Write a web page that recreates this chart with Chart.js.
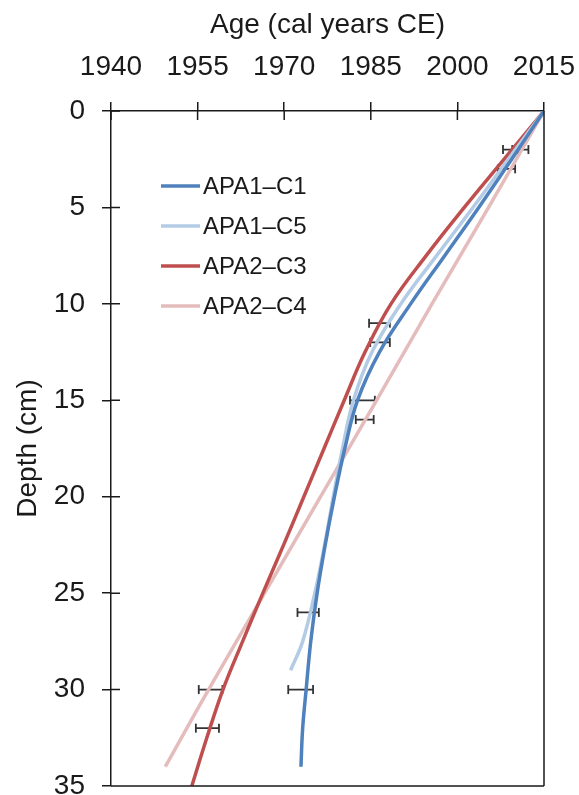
<!DOCTYPE html>
<html>
<head>
<meta charset="utf-8">
<script src="https://cdn.jsdelivr.net/npm/chart.js@4/dist/chart.umd.min.js"></script>
<style>
html,body{margin:0;padding:0;background:#ffffff;}
#wrap{width:579px;height:795px;position:relative;}
</style>
</head>
<body>
<div id="wrap"><canvas id="c" width="579" height="795"></canvas></div>
<script>
// ---- data ----
const xTickValues = [1940, 1955, 1970, 1985, 2000, 2015];
const yTickValues = [0, 5, 10, 15, 20, 25, 30, 35];
const seriesNames = ['APA1\u2013C1', 'APA1\u2013C5', 'APA2\u2013C3', 'APA2\u2013C4'];

const depthC1 = [0, 2.5, 5, 7.5, 10, 12.5, 15, 17.5, 20, 22.5, 25, 27.5, 30, 32, 34];
const ageC1   = [2015, 2009.4, 2003.7, 1997.8, 1991.9, 1986.5, 1982.7, 1980.5, 1978.7, 1977.1, 1975.7, 1974.6, 1973.8, 1973.2, 1972.9];

const depthC5 = [0, 2.5, 5, 7.5, 10, 12.5, 15, 17.5, 20, 22.5, 25, 27.5, 29];
const ageC5   = [2015, 2008.8, 2002.7, 1996.4, 1990.2, 1985.2, 1982.0, 1980.1, 1978.5, 1977.0, 1975.3, 1973.2, 1971.1];

const depthC3 = [0, 2.5, 5, 7.5, 10, 12.5, 15, 17.5, 20, 22.5, 25, 27.5, 30, 32.5, 35];
const ageC3   = [2015, 2008.1, 2001.2, 1994.6, 1988.5, 1984.0, 1980.4, 1976.9, 1973.4, 1969.9, 1966.3, 1962.8, 1959.4, 1956.6, 1954.0];

const depthC4 = [0, 5, 10, 15, 20, 25, 30, 34];
const ageC4   = [2015, 2005.4, 1995.6, 1986.0, 1976.3, 1966.6, 1956.9, 1949.4];

// error bars: depth, lower age, upper age
const errDepth = [2, 2, 3, 11, 12, 15, 16, 26, 30, 30, 32];
const errLow   = [2007.9, 2009.5, 2007.0, 1984.7, 1984.9, 1981.4, 1982.4, 1972.3, 1970.7, 1955.2, 1954.7];
const errHigh  = [2010.5, 2012.3, 2010.0, 1988.3, 1988.3, 1985.7, 1985.5, 1976.0, 1975.0, 1959.3, 1958.7];

const seriesColors = ['#4f81bd', '#b3cbe4', '#bf4f4f', '#e5bcbc'];

// ---- build ----
const FONT = '"Liberation Sans", Arial, Helvetica, sans-serif';
const TXT = '#1a1a1a';

function pts(xs, ys) { return xs.map((v, i) => ({ x: v, y: ys[i] })); }

const errData = [];
errDepth.forEach((d, i) => {
  errData.push({ x: errLow[i], y: d }, { x: errHigh[i], y: d }, { x: null, y: null });
});

const curveSets = [
  [ageC1, depthC1], [ageC5, depthC5], [ageC3, depthC3], [ageC4, depthC4]
].map((p, i) => ({
  label: seriesNames[i],
  data: pts(p[0], p[1]),
  borderColor: seriesColors[i],
  backgroundColor: seriesColors[i],
  borderWidth: 3.5,
  pointRadius: 0,
  tension: 0.4,
  fill: false,
  order: 1,
  inLegend: true
}));

const errSet = {
  label: 'errors',
  data: errData,
  borderColor: '#333333',
  borderWidth: 1.8,
  pointStyle: 'line',
  pointRotation: 90,
  pointRadius: 4.5,
  pointBorderWidth: 1.8,
  pointBorderColor: '#333333',
  pointBackgroundColor: '#333333',
  tension: 0,
  spanGaps: false,
  fill: false,
  order: 5,
  inLegend: false
};

const frameTicks = {
  id: 'frameTicks',
  afterDraw(chart) {
    const ctx = chart.ctx, a = chart.chartArea;
    const xs = chart.scales.x, ys = chart.scales.y;
    ctx.save();
    ctx.strokeStyle = TXT;
    ctx.lineWidth = 1.5;
    ctx.beginPath();
    xs.ticks.forEach(t => { const p = xs.getPixelForValue(t.value); ctx.moveTo(p, a.top); ctx.lineTo(p, a.top + 9); });
    ys.ticks.forEach(t => { const p = ys.getPixelForValue(t.value); ctx.moveTo(a.left, p); ctx.lineTo(a.left + 9, p); });
    ctx.moveTo(a.right, a.top); ctx.lineTo(a.right, a.bottom);
    ctx.moveTo(a.left, a.bottom); ctx.lineTo(a.right, a.bottom);
    ctx.stroke();
    ctx.restore();
  }
};

const insideLegend = {
  id: 'insideLegend',
  afterDatasetsDraw(chart, args, opts) {
    const ctx = chart.ctx, a = chart.chartArea;
    ctx.save();
    ctx.font = opts.fontSize + 'px ' + FONT;
    ctx.textBaseline = 'middle';
    ctx.textAlign = 'left';
    let k = 0;
    chart.data.datasets.forEach(ds => {
      if (!ds.inLegend) return;
      const y = a.top + opts.offsetY + k * opts.spacing;
      const x = a.left + opts.offsetX;
      ctx.strokeStyle = ds.borderColor;
      ctx.lineWidth = 3.5;
      ctx.beginPath(); ctx.moveTo(x, y); ctx.lineTo(x + opts.lineLen, y); ctx.stroke();
      ctx.fillStyle = TXT;
      ctx.fillText(ds.label, x + opts.lineLen + 3, y + 1);
      k++;
    });
    ctx.restore();
  }
};

new Chart(document.getElementById('c'), {
  type: 'line',
  data: { datasets: curveSets.concat([errSet]) },
  options: {
    responsive: false,
    animation: false,
    devicePixelRatio: 1,
    layout: { padding: { left: 0, top: 0, right: 35, bottom: 9 } },
    plugins: {
      legend: { display: false },
      tooltip: { enabled: false },
      insideLegend: { offsetX: 50, offsetY: 75, spacing: 40, lineLen: 39, fontSize: 24 }
    },
    scales: {
      x: {
        type: 'linear',
        position: 'top',
        min: 1940, max: 2015,
        afterBuildTicks(s) { s.ticks = xTickValues.map(v => ({ value: v })); },
        afterFit(s) { s.height = 111; s.paddingLeft = 0; s.paddingRight = 0; },
        ticks: { font: { family: FONT, size: 28 }, color: TXT, padding: 18, maxRotation: 0, autoSkip: false,
                 callback: v => String(v) },
        grid: { drawOnChartArea: false, drawTicks: true, tickLength: 9, color: TXT, lineWidth: 1.5 },
        border: { display: true, color: TXT, width: 1.5 },
        title: { display: true, text: 'Age (cal years CE)', font: { family: FONT, size: 28 }, color: TXT, padding: { top: 8, bottom: 0 } }
      },
      y: {
        type: 'linear',
        position: 'left',
        reverse: true,
        min: 0, max: 35,
        afterBuildTicks(s) { s.ticks = yTickValues.map(v => ({ value: v })); },
        afterFit(s) { s.width = 111; s.paddingTop = 0; s.paddingBottom = 0; },
        ticks: { font: { family: FONT, size: 28 }, color: TXT, padding: 17, autoSkip: false,
                 callback: v => String(v) },
        grid: { drawOnChartArea: false, drawTicks: true, tickLength: 9, color: TXT, lineWidth: 1.5 },
        border: { display: true, color: TXT, width: 1.5 },
        title: { display: true, text: 'Depth (cm)', font: { family: FONT, size: 28 }, color: TXT, padding: { top: 11, bottom: 0 } }
      }
    }
  },
  plugins: [frameTicks, insideLegend]
});
</script>
</body>
</html>
